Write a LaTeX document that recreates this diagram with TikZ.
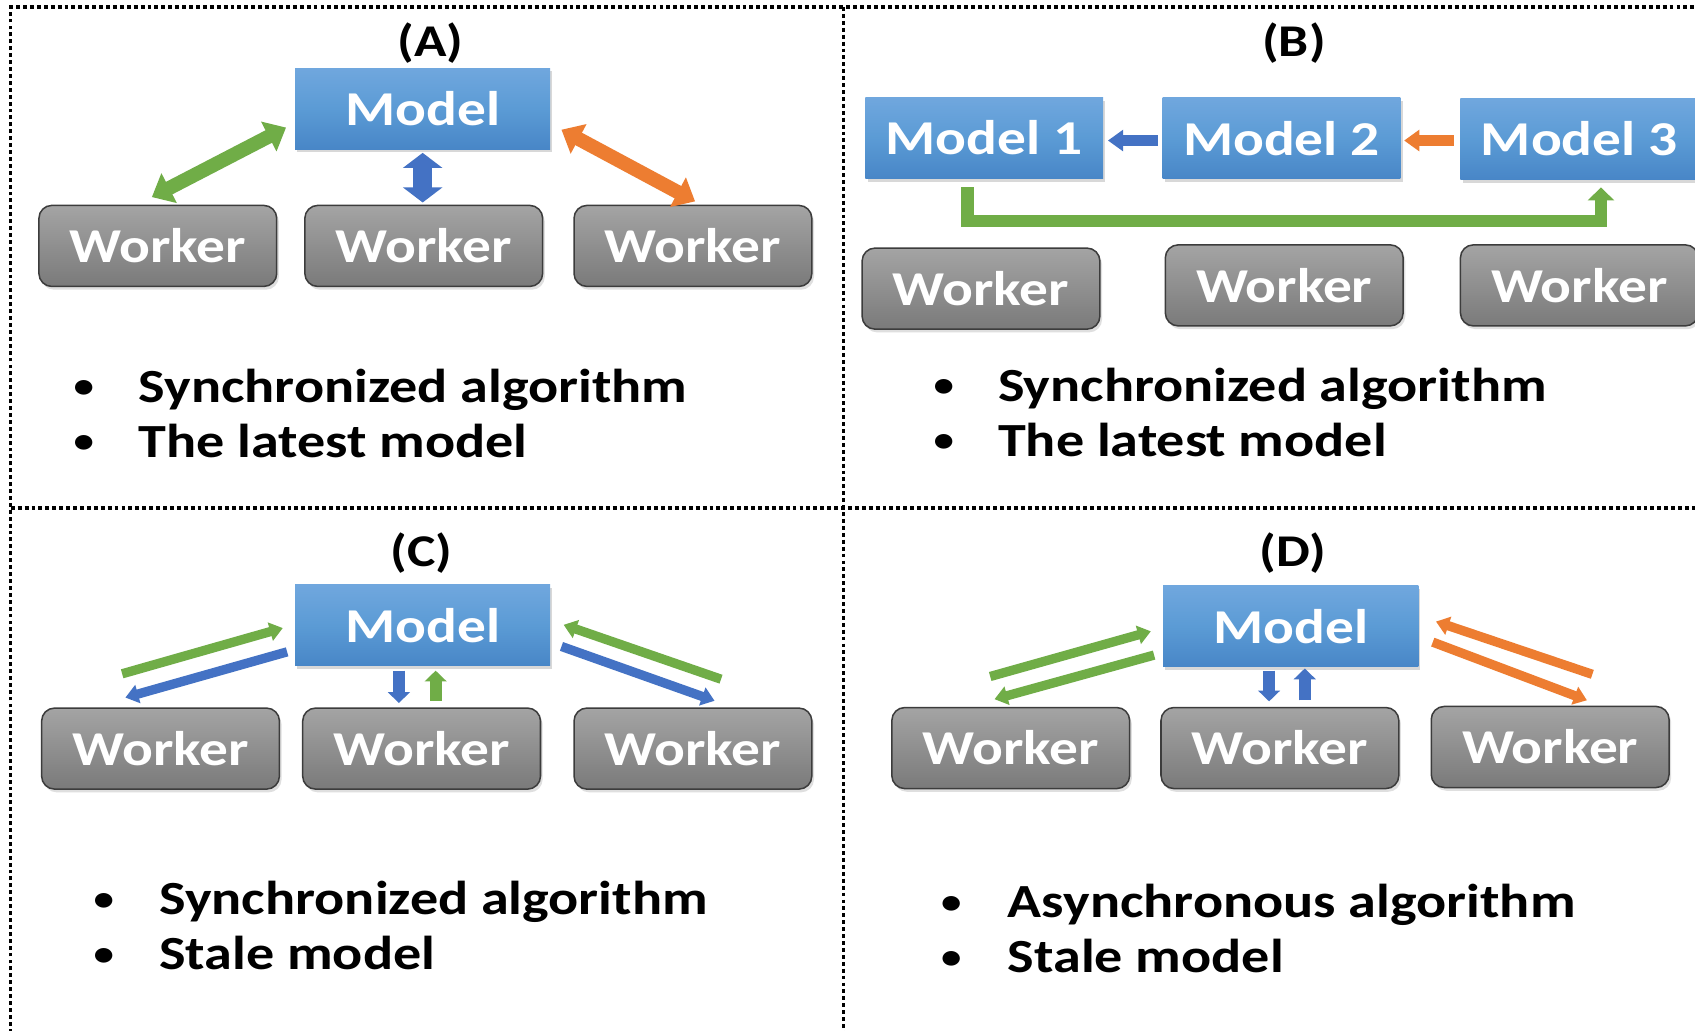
\documentclass[tikz,border=0pt]{standalone}
\usepackage{fontspec}
\setmainfont{Carlito}[FakeStretch=1.18]
\usetikzlibrary{arrows.meta,calc,shadows}
\definecolor{mtop}{HTML}{70A7DE}
\definecolor{mmid}{HTML}{5B9BD5}
\definecolor{mbot}{HTML}{4886C7}
\definecolor{wtop}{HTML}{A4A4A4}
\definecolor{wbot}{HTML}{7A7A7A}
\definecolor{wborder}{HTML}{3C3C3C}
\definecolor{agreen}{HTML}{70AD47}
\definecolor{ablue}{HTML}{4472C4}
\definecolor{aorange}{HTML}{ED7D31}
\tikzset{
  boxfont/.style={font=\bfseries\fontsize{22.5pt}{26pt}\selectfont},
  modelbox/.style={rectangle, minimum width=118pt, minimum height=37.5pt, inner sep=0pt,
    top color=mtop, bottom color=mbot, middle color=mmid, text=white, boxfont,
    drop shadow={opacity=0.3, shadow xshift=1pt, shadow yshift=-1.5pt}},
  modelboxn/.style={modelbox, minimum width=110pt},
  workerbox/.style={rectangle, rounded corners=6pt, minimum width=110pt, minimum height=37.5pt,
    inner sep=0pt, draw=wborder, line width=0.7pt, top color=wtop, bottom color=wbot,
    text=white, boxfont,
    drop shadow={opacity=0.25, shadow xshift=1pt, shadow yshift=-1.5pt}},
  paneltitle/.style={font=\bfseries\fontsize{21pt}{24pt}\selectfont, inner sep=0pt},
  bullettext/.style={font=\bfseries\fontsize{22pt}{26pt}\selectfont, anchor=base west, inner sep=0pt},
  bulletmark/.style={font=\bfseries\fontsize{16pt}{20pt}\selectfont, anchor=base, inner sep=0pt},
  framedots/.style={line width=1.5pt, dash pattern=on 1.8pt off 1.4pt},
  dblarrow/.style={line width=6.5pt, {Triangle[width=15pt,length=9pt]}-{Triangle[width=15pt,length=9pt]}},
  dblarrowv/.style={line width=8.5pt, {Triangle[width=18pt,length=7pt]}-{Triangle[width=18pt,length=7pt]}},
  diagarrow/.style={line width=4.3pt, -{Triangle[width=8.5pt,length=6pt]}},
  vertarrow/.style={line width=5.5pt, -{Triangle[width=10pt,length=5pt]}},
  chainarrow/.style={line width=5pt, -{Triangle[width=9.5pt,length=7pt]}},
  looparrow/.style={line width=5.75pt, line join=miter, -{Triangle[width=12pt,length=6pt]}}
}
\begin{document}
\begin{tikzpicture}[x=0.5pt,y=-0.5pt]
\useasboundingbox (0,0) rectangle (1568,953);
\clip (0,0) rectangle (1568,953);
\fill[white] (0,0) rectangle (1568,953);

% frame
\draw[framedots] (10,1000) -- (10,6.5) -- (1600,6.5);
\draw[framedots] (780,6.5) -- (780,1000);
\draw[framedots] (10,470) -- (1600,470);

% ---------------- Panel A ----------------
\node[paneltitle] (tA) at (398,40) {(A)};
\node[modelbox] (mA) at (391,100.5) {Model};
\node[workerbox] (wA1) at (146,227.5) {Worker};
\node[workerbox] (wA2) at (392,227.5) {Worker};
\node[workerbox] (wA3) at (641,227.5) {Worker};
\draw[dblarrow, agreen] ($(wA1.north)+(-5.5,-7)$) -- ($(mA.west)+(-8,17.5)$);
\draw[dblarrowv, ablue] ($(mA.south)+(0,3)$) -- ($(wA2.north)+(-1,-2)$);
\draw[dblarrow, aorange] ($(mA.east)+(10,19.5)$) -- ($(wA3.north)+(2,-3)$);
\node[bulletmark] (bA1) at (77.5,368) {\textbullet};
\node[bullettext] (sA1) at (128,372) {Synchronized algorithm};
\node[bulletmark] (bA2) at (77.5,419) {\textbullet};
\node[bullettext] (sA2) at (128,423) {The latest model};

% ---------------- Panel B ----------------
\node[paneltitle] (tB) at (1197,40) {(B)};
\node[modelboxn] (mB1) at (910.5,127.5) {Model 1};
\node[modelboxn] (mB2) at (1185.5,128) {Model 2};
\node[modelboxn] (mB3) at (1461,128.5) {Model 3};
\node[workerbox] (wB1) at (907.5,267) {Worker};
\node[workerbox] (wB2) at (1188,264) {Worker};
\node[workerbox] (wB3) at (1461,264) {Worker};
\draw[chainarrow, ablue] ($(mB2.west)+(-4,2)$) -- ($(mB1.east)+(4,2.5)$);
\draw[chainarrow, aorange] ($(mB3.west)+(-6,1.5)$) -- ($(mB2.east)+(3,2)$);
\draw[looparrow, agreen] ($(mB1.south)+(-15.5,8)$) -- ++(0,31) -| ($(mB3.south)+(20,7)$);
\node[bulletmark] (bB1) at (873,367) {\textbullet};
\node[bullettext] (sB1) at (923,371) {Synchronized algorithm};
\node[bulletmark] (bB2) at (873,418) {\textbullet};
\node[bullettext] (sB2) at (923,422) {The latest model};

% ---------------- Panel C ----------------
\node[paneltitle] (tC) at (390,512) {(C)};
\node[modelbox] (mC) at (391,578.5) {Model};
\node[workerbox] (wC1) at (148.5,692.5) {Worker};
\node[workerbox] (wC2) at (390,692.5) {Worker};
\node[workerbox] (wC3) at (641,692.5) {Worker};
\draw[diagarrow, agreen] ($(wC1.north)+(-35.5,-31)$) -- ($(mC.west)+(-11,2.5)$);
\draw[diagarrow, ablue] ($(mC.west)+(-7,24.5)$) -- ($(wC1.north)+(-32.5,-9)$);
\draw[vertarrow, ablue] ($(mC.south)+(-22,4)$) -- ($(wC2.north)+(-21,-4)$);
\draw[vertarrow, agreen] ($(wC2.north)+(13,-6)$) -- ($(mC.south)+(12,4)$);
\draw[diagarrow, agreen] ($(wC3.north)+(26,-26)$) -- ($(mC.east)+(12,-0.5)$);
\draw[diagarrow, ablue] ($(mC.east)+(10,19.5)$) -- ($(wC3.north)+(20,-6)$);
\node[bulletmark] (bC1) at (96,842) {\textbullet};
\node[bullettext] (sC1) at (147,846) {Synchronized algorithm};
\node[bulletmark] (bC2) at (96,893) {\textbullet};
\node[bullettext] (sC2) at (147,897) {Stale model};

% ---------------- Panel D ----------------
\node[paneltitle] (tD) at (1196,512) {(D)};
\node[modelbox] (mD) at (1194,579.5) {Model};
\node[workerbox] (wD1) at (935,692) {Worker};
\node[workerbox] (wD2) at (1184,692) {Worker};
\node[workerbox] (wD3) at (1434,691) {Worker};
\draw[diagarrow, agreen] ($(wD1.north)+(-19,-28)$) -- ($(mD.west)+(-11,4.5)$);
\draw[diagarrow, agreen] ($(mD.west)+(-8,26.5)$) -- ($(wD1.north)+(-15,-7)$);
\draw[vertarrow, ablue] ($(mD.south)+(-20,3)$) -- ($(wD2.north)+(-10,-5)$);
\draw[vertarrow, ablue] ($(wD2.north)+(23,-6)$) -- ($(mD.south)+(13,1)$);
\draw[diagarrow, aorange] ($(wD3.north)+(39,-29)$) -- ($(mD.east)+(16,-4.5)$);
\draw[diagarrow, aorange] ($(mD.east)+(13,14.5)$) -- ($(wD3.north)+(34,-5)$);
\node[bulletmark] (bD1) at (880,845) {\textbullet};
\node[bullettext] (sD1) at (932,849) {Asynchronous algorithm};
\node[bulletmark] (bD2) at (880,896) {\textbullet};
\node[bullettext] (sD2) at (932,900) {Stale model};
\end{tikzpicture}
\end{document}
